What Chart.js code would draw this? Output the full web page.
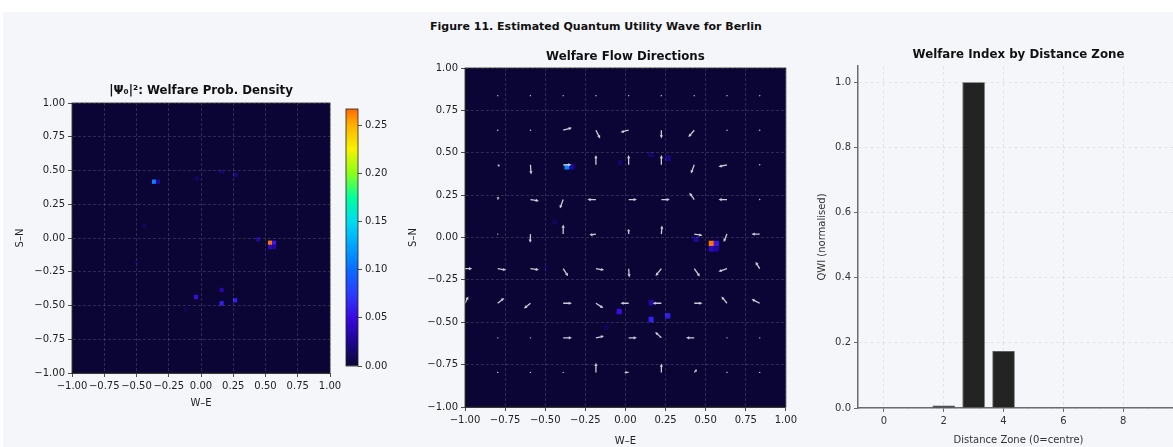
<!DOCTYPE html>
<html>
<head>
<meta charset="utf-8">
<script src="https://cdn.jsdelivr.net/npm/chart.js@4.4.1/dist/chart.umd.min.js"></script>
<style>
  html, body { margin: 0; padding: 0; background: #ffffff; width: 1173px; height: 447px; overflow: hidden; }
  #fig { position: absolute; left: 3px; top: 12px; width: 1170px; height: 435px; background: #f5f6fa; }
  #suptitle { position: absolute; left: 0; top: 20px; width: 1192px; text-align: center;
              font: bold 11px 'DejaVu Sans', sans-serif; line-height: 14px; color: #111; }
  canvas { position: absolute; }
</style>
</head>
<body>
<div id="fig"></div>
<div id="suptitle">Figure 11. Estimated Quantum Utility Wave for Berlin</div>
<canvas id="density" width="400" height="435" style="left:0px;top:12px"></canvas>
<canvas id="cbar" width="70" height="435" style="left:330px;top:12px"></canvas>
<canvas id="flow" width="400" height="435" style="left:400px;top:12px"></canvas>
<canvas id="zones" width="400" height="435" style="left:800px;top:12px"></canvas>
<script>
// ---- data ----
const gridTicks = [-1, -0.75, -0.5, -0.25, 0, 0.25, 0.5, 0.75, 1];

// |psi|^2 hot cells (everything else ~0)
const spotX   = [-0.364, -0.334, 0.535, 0.567, 0.535, 0.567, 0.44, 0.16, 0.264, -0.039, 0.16, 0.266, 0.16, -0.033, -0.44, -0.12, -0.5];
const spotY   = [0.417, 0.417, -0.035, -0.035, -0.067, -0.067, -0.01, -0.484, -0.462, -0.437, -0.385, 0.467, 0.49, 0.442, 0.091, -0.53, -0.18];
const spotVal = [0.112, 0.03, 0.265, 0.058, 0.04, 0.03, 0.028, 0.062, 0.06, 0.052, 0.032, 0.022, 0.014, 0.012, 0.01, 0.01, 0.006];

// colour bar
const VMAX = 0.2666;
const cbTicks = [0, 0.05, 0.1, 0.15, 0.2, 0.25];
const cmapV = [0, 0.025, 0.05, 0.075, 0.10, 0.125, 0.15, 0.175, 0.20, 0.225, 0.25, 0.2666];
const cmapC = ['#0a0535', '#1c0690', '#3a08e0', '#2a3cff', '#0a6cff', '#00a4ff', '#00dcf0', '#00ff9c', '#8cff1a', '#f8f200', '#ffb000', '#ff6a00'];

// quiver grid (rows top -> bottom)
const quiverX = [-1.0, -0.796, -0.592, -0.388, -0.184, 0.020, 0.224, 0.429, 0.633, 0.837];
const quiverY = [0.837, 0.633, 0.429, 0.224, 0.020, -0.184, -0.388, -0.592, -0.796, -1.0];
const quiverU = [
  [0, .06, .06, .06, .06, .06, .06, .06, .06, .06],
  [0, .06, .06, .96, .46, -.89, 0, -.64, .06, .06],
  [0, .2, .07, .9, 0, 0, 0, -.36, -.93, .06],
  [0, .07, .93, -.36, -.93, .9, .93, -.54, -.93, .06],
  [.08, .06, -.04, 0, -.71, 0, .07, .9, -.36, -.9],
  [.79, .93, .93, .54, .9, .07, -.64, .61, -.93, -.46],
  [.36, .71, -.71, .96, .82, -.9, -.96, .9, -.61, -.89],
  [0, .06, .06, .96, .9, .9, -.68, -.9, .06, .06],
  [0, .06, .06, .06, 0, -.46, 0, .29, .06, .06],
  [0, 0, 0, 0, 0, 0, 0, 0, 0, 0]
];
const quiverV = [
  [0, 0, 0, 0, 0, 0, 0, 0, 0, 0],
  [0, 0, 0, .25, -.86, -.21, -.86, -.71, 0, 0],
  [0, -.15, -1.0, 0, 1.0, 1.0, 1.0, -.9, -.2, 0],
  [0, .28, -.14, -.93, 0, 0, 0, .71, 0, 0],
  [0, 0, -.9, 1.0, -.1, .54, .9, -.14, -.82, 0],
  [0, -.14, -.1, -.79, -.14, -.9, -.75, -.82, -.3, .71],
  [.71, .54, -.54, 0, -.5, 0, 0, 0, .71, .43],
  [0, 0, 0, 0, .18, 0, .61, 0, 0, 0],
  [0, 0, 0, 0, 1.0, 0, .93, .29, 0, 0],
  [0, 0, 0, 0, 0, 0, 0, 0, 0, 0]
];

// welfare index by zone
const zones = [0, 1, 2, 3, 4, 5, 6, 7, 8, 9];
const qwi = [0, 0, 0.008, 1.0, 0.175, 0, 0, 0, 0, 0];
const zoneTicks = [0, 2, 4, 6, 8];
const qwiTicks = [0, 0.2, 0.4, 0.6, 0.8, 1.0];

// ---- drawing constants ----
const CELL = 0.032;
const ARROW = 0.057;

Chart.defaults.font.family = "'DejaVu Sans', sans-serif";
Chart.defaults.font.size = 10;
Chart.defaults.color = '#222';
Chart.defaults.animation = false;
Chart.defaults.plugins.legend.display = false;
Chart.defaults.plugins.tooltip.enabled = false;

function hex(c) { return [1, 3, 5].map(i => parseInt(c.substr(i, 2), 16)); }
function cmap(v) {
  if (v <= cmapV[0]) return cmapC[0];
  for (let i = 1; i < cmapV.length; i++) {
    if (v <= cmapV[i]) {
      const t = (v - cmapV[i - 1]) / (cmapV[i] - cmapV[i - 1]);
      const a = hex(cmapC[i - 1]), b = hex(cmapC[i]);
      return 'rgb(' + a.map((x, k) => Math.round(x + (b[k] - x) * t)).join(',') + ')';
    }
  }
  return cmapC[cmapC.length - 1];
}
const fmt = d => v => (v < 0 ? '\u2212' : '') + Math.abs(v).toFixed(d);

const panelTitle = {
  id: 'panelTitle',
  afterDraw(chart, args, opts) {
    const {ctx, chartArea: a} = chart;
    ctx.save();
    ctx.font = "bold 11.8px 'DejaVu Sans', sans-serif";
    ctx.fillStyle = '#111';
    ctx.textAlign = 'center';
    ctx.textBaseline = 'middle';
    ctx.fillText(opts.text, (a.left + a.right) / 2, a.top - opts.gap);
    ctx.restore();
  }
};

const frame = {
  id: 'frame',
  afterDraw(chart) {
    const {ctx, chartArea: a} = chart;
    ctx.save();
    ctx.strokeStyle = '#222';
    ctx.lineWidth = 0.8;
    ctx.strokeRect(a.left, a.top, a.width, a.height);
    ctx.restore();
  }
};

const heatmap = {
  id: 'heatmap',
  beforeDraw(chart) {
    const {ctx, chartArea: a, scales: {x, y}} = chart;
    ctx.save();
    ctx.beginPath();
    ctx.rect(a.left, a.top, a.width, a.height);
    ctx.clip();
    ctx.fillStyle = cmap(0);
    ctx.fillRect(a.left, a.top, a.width, a.height);
    chart.data.datasets[0].data.forEach(c => {
      const x0 = x.getPixelForValue(c.x - CELL / 2), x1 = x.getPixelForValue(c.x + CELL / 2);
      const y0 = y.getPixelForValue(c.y + CELL / 2), y1 = y.getPixelForValue(c.y - CELL / 2);
      ctx.fillStyle = cmap(c.v);
      ctx.fillRect(x0, y0, x1 - x0, y1 - y0);
    });
    ctx.restore();
  }
};

const quiver = {
  id: 'quiver',
  afterDatasetsDraw(chart) {
    const {ctx, chartArea: a, scales: {x, y}} = chart;
    const meta = chart.getDatasetMeta(1);
    const pts = chart.data.datasets[1].data;
    ctx.save();
    ctx.beginPath();
    ctx.rect(a.left, a.top, a.width, a.height);
    ctx.clip();
    ctx.fillStyle = 'rgba(225,225,230,0.9)';
    meta.data.forEach((el, i) => {
      const p = pts[i];
      if (p.u === 0 && p.v === 0) return;
      const px = el.x, py = el.y;
      const ex = x.getPixelForValue(p.x + p.u * ARROW);
      const ey = y.getPixelForValue(p.y + p.v * ARROW);
      const dx = ex - px, dy = ey - py, len = Math.hypot(dx, dy);
      if (len < 1.5) {
        ctx.beginPath();
        ctx.arc(px, py, 0.7, 0, Math.PI * 2);
        ctx.fill();
        return;
      }
      const ux = dx / len, uy = dy / len, nx = -uy, ny = ux;
      const hl = Math.min(3.2, len * 0.45), hw = 1.6, sw = 0.65;
      const bx = ex - ux * hl, by = ey - uy * hl;
      ctx.beginPath();
      ctx.moveTo(px + nx * sw, py + ny * sw);
      ctx.lineTo(bx + nx * sw, by + ny * sw);
      ctx.lineTo(bx + nx * hw, by + ny * hw);
      ctx.lineTo(ex, ey);
      ctx.lineTo(bx - nx * hw, by - ny * hw);
      ctx.lineTo(bx - nx * sw, by - ny * sw);
      ctx.lineTo(px - nx * sw, py - ny * sw);
      ctx.closePath();
      ctx.fill();
    });
    ctx.restore();
  }
};

function heatAxis(pos, label, titlePad, size) {
  return {
    type: 'linear', position: pos, min: -1, max: 1,
    afterBuildTicks: s => { s.ticks = gridTicks.map(v => ({value: v})); },
    afterFit: s => { if (pos === 'bottom') s.height = size; else s.width = size; },
    ticks: { autoSkip: false, maxRotation: 0, padding: 3, color: '#222', callback: fmt(2) },
    grid: { color: 'rgba(145,145,170,0.35)', lineWidth: 0.8, tickColor: '#222', tickLength: 4, tickWidth: 0.8, tickBorderDash: [] },
    border: { display: true, color: '#222', width: 0.8, dash: [3, 2] },
    title: { display: true, text: label, color: '#222', padding: pos === 'bottom' ? {top: 0, bottom: titlePad} : {top: titlePad, bottom: 0} }
  };
}

const densityCells = spotX.map((sx, i) => ({x: sx, y: spotY[i], v: spotVal[i]}));
const arrows = [];
quiverY.forEach((qy, r) => quiverX.forEach((qx, c) => arrows.push({x: qx, y: qy, u: quiverU[r][c], v: quiverV[r][c]})));

// panel 1: density
new Chart(document.getElementById('density'), {
  type: 'scatter',
  data: { datasets: [{ data: densityCells, pointRadius: 0 }] },
  options: {
    responsive: false,
    layout: { padding: {left: 0, right: 70, top: 91, bottom: 0} },
    scales: { x: heatAxis('bottom', 'W\u2013E', 38, 74), y: heatAxis('left', 'S\u2013N', 14, 72) },
    plugins: { panelTitle: { text: '|\u03a8\u2080|\u00b2: Welfare Prob. Density', gap: 12 } }
  },
  plugins: [heatmap, frame, panelTitle]
});

// colour bar
new Chart(document.getElementById('cbar'), {
  type: 'bar',
  data: { labels: ['|\u03a8\u2080|\u00b2'], datasets: [{
    data: [VMAX], barPercentage: 1, categoryPercentage: 1, borderWidth: 0,
    backgroundColor: ctx => {
      const a = ctx.chart.chartArea;
      if (!a) return cmapC[0];
      const g = ctx.chart.ctx.createLinearGradient(0, a.bottom, 0, a.top);
      cmapV.forEach((v, i) => g.addColorStop(v / VMAX, cmapC[i]));
      return g;
    }
  }] },
  options: {
    responsive: false,
    layout: { padding: {left: 16, right: 0, top: 97, bottom: 81} },
    scales: {
      x: { display: false },
      y: { position: 'right', min: 0, max: VMAX,
           afterBuildTicks: s => { s.ticks = cbTicks.map(v => ({value: v})); },
           afterFit: s => { s.width = 42; },
           ticks: { padding: 3, color: '#222', callback: fmt(2) },
           grid: { drawOnChartArea: false, tickColor: '#222', tickLength: 4, tickWidth: 0.8 },
           border: { display: false } }
    }
  },
  plugins: [frame]
});

// panel 2: flow directions
new Chart(document.getElementById('flow'), {
  type: 'scatter',
  data: { datasets: [
    { data: densityCells, pointRadius: 0 },
    { data: arrows, pointRadius: 0 }
  ] },
  options: {
    responsive: false,
    layout: { padding: {left: 0, right: 13, top: 56, bottom: 0} },
    scales: { x: heatAxis('bottom', 'W\u2013E', 0, 40), y: heatAxis('left', 'S\u2013N', 7, 65) },
    plugins: { panelTitle: { text: 'Welfare Flow Directions', gap: 11 } }
  },
  plugins: [heatmap, quiver, frame, panelTitle]
});

// panel 3: welfare index by distance zone
new Chart(document.getElementById('zones'), {
  type: 'bar',
  data: { datasets: [{
    data: zones.map((z, i) => ({x: z, y: qwi[i]})),
    backgroundColor: '#232323', borderColor: '#4a4a4a', borderWidth: 0.8,
    barPercentage: 0.75, categoryPercentage: 1
  }] },
  options: {
    responsive: false,
    layout: { padding: {left: 0, right: 21, top: 54, bottom: 0} },
    scales: {
      x: { type: 'linear', min: -0.8625, max: 9.8625, offset: false,
           afterBuildTicks: s => { s.ticks = zoneTicks.map(v => ({value: v})); },
           afterFit: s => { s.height = 39; },
           ticks: { padding: 3, color: '#333', callback: v => String(v) },
           grid: { offset: false, color: 'rgba(0,0,0,0.09)', lineWidth: 0.8, tickColor: '#6b6b6b', tickLength: 4, tickWidth: 1, tickBorderDash: [] },
           border: { color: '#6b6b6b', width: 1.5, dash: [3, 3] },
           title: { display: true, text: 'Distance Zone (0=centre)', color: '#333', padding: {top: 0, bottom: 1} } },
      y: { min: 0, max: 1.05,
           afterBuildTicks: s => { s.ticks = qwiTicks.map(v => ({value: v})); },
           afterFit: s => { s.width = 58; },
           ticks: { padding: 3, color: '#333', callback: v => v.toFixed(1) },
           grid: { color: 'rgba(0,0,0,0.09)', lineWidth: 0.8, tickColor: '#6b6b6b', tickLength: 4, tickWidth: 1, tickBorderDash: [] },
           border: { color: '#6b6b6b', width: 1.5, dash: [3, 3] },
           title: { display: true, text: 'QWI (normalised)', color: '#333', padding: {top: 16, bottom: 0} } }
    },
    plugins: { panelTitle: { text: 'Welfare Index by Distance Zone', gap: 11 } }
  },
  plugins: [panelTitle]
});
</script>
</body>
</html>
